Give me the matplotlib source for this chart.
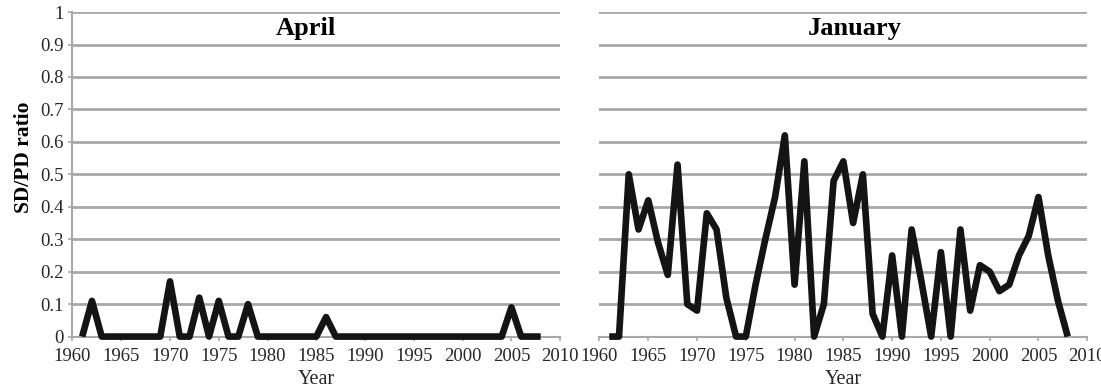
import matplotlib.pyplot as plt

plt.rcParams["font.family"] = ["Liberation Serif", "DejaVu Serif"]

years = list(range(1961, 2009))

april = [0, 0.11, 0, 0, 0, 0, 0, 0, 0, 0.17,
         0, 0, 0.12, 0, 0.11, 0, 0, 0.10, 0, 0,
         0, 0, 0, 0, 0, 0.06, 0, 0, 0, 0,
         0, 0, 0, 0, 0, 0, 0, 0, 0, 0,
         0, 0, 0, 0, 0.09, 0, 0, 0]

january = [0, 0, 0.50, 0.33, 0.42, 0.29, 0.19, 0.53, 0.10, 0.08,
           0.38, 0.33, 0.12, 0, 0, 0.16, 0.30, 0.43, 0.62, 0.16,
           0.54, 0, 0.10, 0.48, 0.54, 0.35, 0.50, 0.07, 0, 0.25,
           0, 0.33, 0.17, 0, 0.26, 0, 0.33, 0.08, 0.22, 0.20,
           0.14, 0.16, 0.25, 0.31, 0.43, 0.25, 0.11, 0]

panels = [("April", april), ("January", january)]
xticks = list(range(1960, 2011, 5))
yticks = [0, 0.1, 0.2, 0.3, 0.4, 0.5, 0.6, 0.7, 0.8, 0.9, 1]

GRID = "#a8a8a8"
TEXT = "#262626"

fig = plt.figure(figsize=(11.01, 3.9), dpi=100)
boxes = [[0.0658, 0.137, 0.443, 0.832], [0.5445, 0.137, 0.443, 0.832]]

for i, ((title, vals), box) in enumerate(zip(panels, boxes)):
    ax = fig.add_axes(box)
    for y in yticks:
        ax.axhline(y, color=GRID, lw=2, zorder=1)
    ax.plot(years, vals, color="#141414", lw=4.8, solid_joinstyle="round",
            solid_capstyle="butt", zorder=3, clip_on=False)
    ax.set_xlim(1960, 2010)
    ax.set_ylim(0, 1)
    ax.set_xticks(xticks)
    ax.set_yticks(yticks)
    ax.set_yticklabels(["%g" % y for y in yticks])
    for s in ["top", "right"]:
        ax.spines[s].set_visible(False)
    ax.spines["bottom"].set_color(GRID)
    ax.spines["bottom"].set_linewidth(1.5)
    ax.tick_params(axis="x", colors=GRID, length=3, width=1.2, labelsize=13.5,
                   labelcolor=TEXT, pad=5)
    if i == 0:
        ax.spines["left"].set_color(GRID)
        ax.spines["left"].set_linewidth(1.5)
        ax.tick_params(axis="y", colors=GRID, length=3, width=1.2, labelsize=13.5,
                       labelcolor=TEXT, pad=3)
        ax.set_ylabel("SD/PD ratio", fontsize=15.5, fontweight="bold")
        ax.yaxis.set_label_coords(-0.078, 0.553)
    else:
        ax.spines["left"].set_visible(False)
        ax.tick_params(axis="y", left=False, labelleft=False)
    ax.set_xlabel("Year", fontsize=14.5, labelpad=4, color=TEXT)
    ax.text(0.478 if i == 0 else 0.524, 0.95, title, transform=ax.transAxes,
            ha="center", va="center", fontsize=19, fontweight="bold", zorder=4)

fig.savefig("out.png", dpi=100, facecolor="white")
